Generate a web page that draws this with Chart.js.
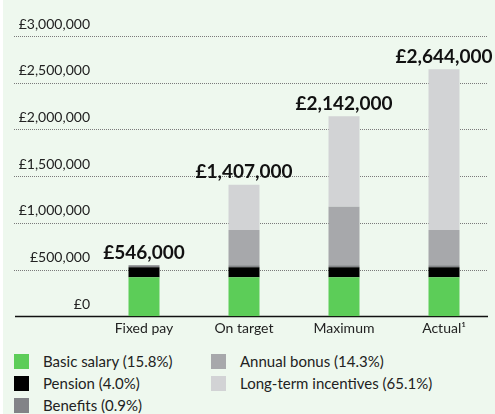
<html>
<head>
<script src="https://cdn.jsdelivr.net/npm/chart.js"></script>
<style>
    body { margin: 0; background: #fff; }
    .panel { position: absolute; left: 3px; top: 0; width: 492px; height: 414px; background: #eef8ee; }
    .panel canvas { position: absolute; left: 0; top: 0; }
    .legend {
        position: absolute; left: 11px; top: 350px;
        display: grid; grid-auto-flow: column;
        grid-template-rows: repeat(3, 22px); grid-template-columns: 197px 260px;
        font: 15px Lato, sans-serif; color: #222;
    }
    .legend div { display: flex; align-items: center; white-space: nowrap; }
    .legend span { display: inline-block; width: 15px; height: 15px; margin-right: 14px; }
</style>
</head>
<body>
<div class="panel">
    <canvas id="payChart" width="492" height="341"></canvas>
    <div class="legend" id="legend"></div>
</div>

<script>
    const SCENARIOS = ['Fixed pay', 'On target', 'Maximum', 'Actual¹']
    const COMPONENTS = ['Basic salary', 'Pension', 'Benefits', 'Annual bonus', 'Long-term incentives']
    const SHARES = [15.8, 4.0, 0.9, 14.3, 65.1] // % of actual pay

    const basicSalary = [418000, 418000, 418000, 418000]
    const pension = [105000, 105000, 105000, 105000]
    const benefits = [23000, 23000, 23000, 23000]
    const annualBonus = [0, 378000, 627000, 378000]
    const longTermIncentives = [0, 483000, 969000, 1720000]

    const Y_TICKS = [0, 500000, 1000000, 1500000, 2000000, 2500000, 3000000]

    const COLORS = ['#5ccd58', '#000000', '#828387', '#a7a8ab', '#d2d3d5']
    const SERIES = [basicSalary, pension, benefits, annualBonus, longTermIncentives]

    const money = (v) => '£' + v.toLocaleString('en-GB')

    // dotted rules running under the axis labels, solid line at zero
    const gridPlugin = {
        id: 'fullGrid',
        beforeDatasetsDraw(chart) {
            const ctx = chart.ctx
            const y = chart.scales.y
            ctx.save()
            Y_TICKS.forEach((v) => {
                const py = Math.round(y.getPixelForValue(v)) + 0.5
                ctx.beginPath()
                if (v === 0) {
                    ctx.setLineDash([])
                    ctx.strokeStyle = '#111'
                    ctx.lineWidth = 1.5
                    ctx.moveTo(12, py)
                } else {
                    ctx.setLineDash([1, 1])
                    ctx.strokeStyle = '#7a7a7a'
                    ctx.lineWidth = 1
                    ctx.moveTo(11, py)
                }
                ctx.lineTo(485, py)
                ctx.stroke()
            })
            ctx.restore()
        },
    }

    // stack totals above each bar
    const totalsPlugin = {
        id: 'totals',
        afterDatasetsDraw(chart) {
            const ctx = chart.ctx
            const x = chart.scales.x
            const y = chart.scales.y
            ctx.save()
            ctx.font = 'bold 19px Lato, sans-serif'
            ctx.fillStyle = '#111'
            ctx.textAlign = 'center'
            ctx.textBaseline = 'bottom'
            SCENARIOS.forEach((s, i) => {
                const total = SERIES.reduce((sum, arr) => sum + arr[i], 0)
                ctx.fillText(money(total), x.getPixelForValue(i), y.getPixelForValue(total) - 3)
            })
            ctx.restore()
        },
    }

    new Chart(document.getElementById('payChart'), {
        type: 'bar',
        data: {
            labels: SCENARIOS,
            datasets: SERIES.map((data, idx) => ({
                label: COMPONENTS[idx],
                data,
                backgroundColor: COLORS[idx],
                borderWidth: 0,
                categoryPercentage: 1,
                barPercentage: 0.31,
            })),
        },
        options: {
            responsive: false,
            animation: false,
            layout: { padding: { top: 36, right: 1, bottom: 0, left: 0 } },
            plugins: {
                legend: { display: false },
                tooltip: { enabled: false },
            },
            scales: {
                x: {
                    stacked: true,
                    offset: true,
                    grid: { display: false, drawTicks: false },
                    border: { display: false },
                    ticks: { color: '#222', padding: 4, font: { family: 'Lato', size: 14 } },
                },
                y: {
                    stacked: true,
                    min: 0,
                    max: 3000000,
                    afterFit: (scale) => { scale.width = 91 },
                    afterBuildTicks: (scale) => { scale.ticks = Y_TICKS.map((value) => ({ value })) },
                    grid: { display: false, drawTicks: false },
                    border: { display: false },
                    ticks: {
                        color: '#222',
                        padding: 4,
                        labelOffset: -12,
                        font: { family: 'Lato', size: 14 },
                        callback: (v) => money(v),
                    },
                },
            },
        },
        plugins: [gridPlugin, totalsPlugin],
    })

    const legend = document.getElementById('legend')
    COMPONENTS.forEach((name, idx) => {
        const item = document.createElement('div')
        item.innerHTML = `<span style="background:${COLORS[idx]}"></span>${name} (${SHARES[idx].toFixed(1)}%)`
        legend.appendChild(item)
    })
</script>
</body>
</html>
